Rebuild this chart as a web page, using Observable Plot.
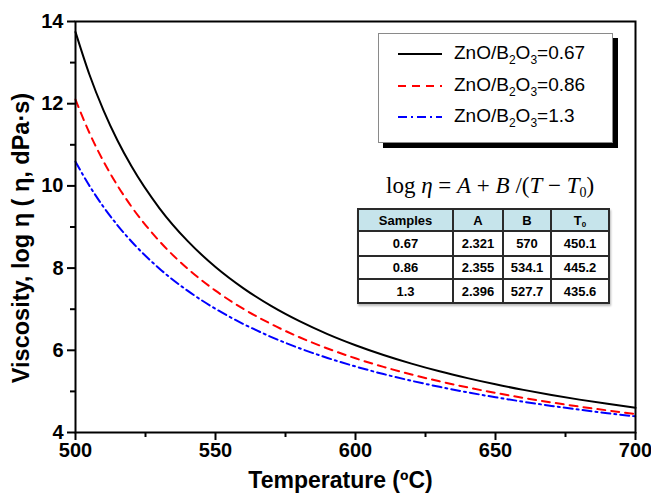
<!DOCTYPE html>
<html>
<head>
<meta charset="utf-8">
<script src="https://cdn.jsdelivr.net/npm/d3@7"></script>
<script src="https://cdn.jsdelivr.net/npm/@observablehq/plot@0.6"></script>
<style>
  body { margin: 0; background: white; }
  #wrap { position: relative; width: 651px; height: 495px; font-family: "Liberation Sans", Arial, sans-serif; }
  #legend { position: absolute; left: 378px; top: 33px; width: 233px; height: 108px; background: white; border: 1px solid #8a8a8a; box-shadow: 5px 5px 0 #000; }
  .lrow { position: absolute; left: 0; height: 20px; width: 233px; }
  .lrow svg { position: absolute; left: 19px; top: 5px; }
  .lrow span { position: absolute; left: 75px; top: -2px; font-size: 19px; line-height: 22px; white-space: nowrap; color: #000; }
  .lrow sub { font-size: 12px; vertical-align: -5px; line-height: 0; }
  #formula { position: absolute; left: 386px; top: 172px; font-family: "Liberation Serif", "Times New Roman", serif; font-size: 23px; line-height: 28px; white-space: nowrap; }
  #formula i { font-style: italic; }
  #formula sub { font-size: 14px; vertical-align: -4px; line-height: 0; font-style: normal; }
  #tbl { position: absolute; left: 357px; top: 208px; border-collapse: collapse; table-layout: fixed; width: 251px; font-weight: bold; font-size: 13px; box-shadow: 1px 2px 2px #bbb; }
  #tbl td { border: 2px solid #2a2a2a; text-align: center; padding: 0; background: white; }
  #tbl tr.h td { background: #c6e4eb; }
  #tbl sub { font-size: 8px; vertical-align: -2px; line-height: 0; }
</style>
</head>
<body>
<div id="wrap"></div>
<script>
// ---- data ----
const temps = [500, 505, 510, 515, 520, 530, 540, 550, 560, 570, 580, 590, 600, 610, 620, 630, 640, 650, 660, 670, 680, 690, 700];
const visc067 = [13.744, 12.704, 11.837, 11.104, 10.476, 9.455, 8.661, 8.027, 7.508, 7.075, 6.709, 6.395, 6.124, 5.886, 5.676, 5.489, 5.323, 5.172, 5.037, 4.913, 4.800, 4.697, 4.602];
const visc086 = [12.101, 11.286, 10.597, 10.007, 9.495, 8.653, 7.989, 7.451, 7.007, 6.635, 6.317, 6.044, 5.805, 5.596, 5.411, 5.245, 5.097, 4.963, 4.842, 4.731, 4.630, 4.537, 4.451];
const visc13 = [10.590, 10.000, 9.489, 9.042, 8.648, 7.986, 7.451, 7.009, 6.638, 6.322, 6.050, 5.814, 5.606, 5.422, 5.258, 5.111, 4.978, 4.857, 4.748, 4.647, 4.555, 4.470, 4.392];

const seriesNames = ["0.67", "0.86", "1.3"];
const seriesColors = ["#000000", "#ff0000", "#0000ff"];
const seriesDash = [null, "8,6", "9,4,2,4"];

const xTicks = [500, 550, 600, 650, 700];
const xMinorTicks = [525, 575, 625, 675];
const yTicks = [4, 6, 8, 10, 12, 14];
const yMinorTicks = [5, 7, 9, 11, 13];

// fit table (as printed in the chart)
const tblSamples = ["0.67", "0.86", "1.3"];
const tblA = ["2.321", "2.355", "2.396"];
const tblB = ["570", "534.1", "527.7"];
const tblT0 = ["450.1", "445.2", "435.6"];

const xLabel = "Temperature (ºC)";
const yLabel = "Viscosity, log η ( η, dPa·s)";

// ---- build ----
const allSeries = [visc067, visc086, visc13].map(vals => temps.map((t, i) => ({T: t, v: vals[i]})));

const lineMarks = allSeries.map((d, k) => Plot.line(d, {
  x: "T", y: "v", stroke: seriesColors[k], strokeWidth: 2,
  strokeDasharray: seriesDash[k] || undefined, curve: "monotone-x"
}));

const chart = Plot.plot({
  width: 651,
  height: 495,
  marginLeft: 75,
  marginRight: 16,
  marginTop: 21,
  marginBottom: 63,
  x: {domain: [500, 700]},
  y: {domain: [4, 14]},
  style: {fontFamily: "'Liberation Sans', Arial, sans-serif", fontWeight: "bold", color: "black", background: "white", overflow: "visible"},
  marks: [
    Plot.axisX({ticks: xTicks, tickSize: 8, tickPadding: 2, strokeWidth: 2, fontSize: 20, fontWeight: "bold", label: null}),
    Plot.axisX({ticks: xMinorTicks, tickSize: 5, strokeWidth: 2, text: null, label: null}),
    Plot.axisY({ticks: yTicks, tickSize: 8, tickPadding: 4, strokeWidth: 2, fontSize: 20, fontWeight: "bold", label: null}),
    Plot.axisY({ticks: yMinorTicks, tickSize: 5, strokeWidth: 2, text: null, label: null}),
    ...lineMarks,
    Plot.frame({stroke: "black", strokeWidth: 2}),
    Plot.text([xLabel], {frameAnchor: "bottom", dx: -15, dy: 48, fontSize: 23, fontWeight: "bold", lineAnchor: "middle", textAnchor: "middle"}),
    Plot.text([yLabel], {frameAnchor: "left", dx: -54, dy: 11, rotate: -90, fontSize: 23.5, fontWeight: "bold", lineAnchor: "middle", textAnchor: "middle"})
  ]
});

const wrap = document.getElementById("wrap");
wrap.appendChild(chart);

// legend
const legend = document.createElement("div");
legend.id = "legend";
const rowCenters = [20, 52, 83];
seriesNames.forEach((name, k) => {
  const row = document.createElement("div");
  row.className = "lrow";
  row.style.top = (rowCenters[k] - 10) + "px";
  const dash = seriesDash[k] ? `stroke-dasharray="${seriesDash[k]}"` : "";
  row.innerHTML = `<svg width="44" height="10"><line x1="0" y1="5" x2="44" y2="5" stroke="${seriesColors[k]}" stroke-width="2" ${dash}/></svg>` +
    `<span>ZnO/B<sub>2</sub>O<sub>3</sub>=${name}</span>`;
  legend.appendChild(row);
});
wrap.appendChild(legend);

// formula
const formula = document.createElement("div");
formula.id = "formula";
formula.innerHTML = `log <i>η</i> = <i>A</i> + <i>B</i> /(<i>T</i> − <i>T</i><sub>0</sub>)`;
wrap.appendChild(formula);

// table
const tbl = document.createElement("table");
tbl.id = "tbl";
const colW = [95, 50, 48, 58];
const rowH = [22, 25, 23, 24];
let html = `<colgroup>${colW.map(w => `<col style="width:${w}px">`).join("")}</colgroup>`;
html += `<tr class="h" style="height:${rowH[0]}px"><td>Samples</td><td>A</td><td>B</td><td>T<sub>0</sub></td></tr>`;
tblSamples.forEach((s, i) => {
  html += `<tr style="height:${rowH[i + 1]}px"><td>${s}</td><td>${tblA[i]}</td><td>${tblB[i]}</td><td>${tblT0[i]}</td></tr>`;
});
tbl.innerHTML = html;
wrap.appendChild(tbl);
</script>
</body>
</html>
